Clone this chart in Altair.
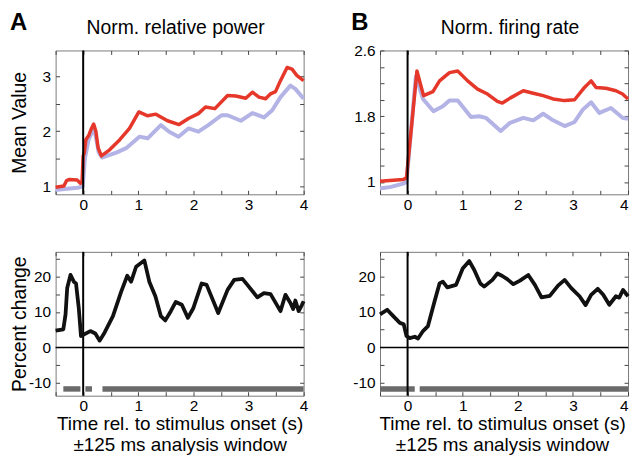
import altair as alt
import pandas as pd

FONT = "Liberation Sans"

# ---------------- data ----------------
# Panel A (top): Norm. relative power
tA_red = [-0.5, -0.35, -0.3, -0.25, -0.11, -0.05, -0.02, 0.0, 0.02, 0.05, 0.1, 0.15, 0.19, 0.23, 0.27, 0.33,
          0.48, 0.66, 0.84, 1.01, 1.1, 1.17, 1.32, 1.53, 1.74, 1.91, 2.09, 2.22, 2.39, 2.62, 2.77, 2.95,
          3.07, 3.19, 3.31, 3.40, 3.49, 3.58, 3.70, 3.79, 3.88, 4.0]
vA_red = [0.98, 1.0, 1.1, 1.12, 1.11, 1.05, 1.08, 1.55, 1.6, 1.85, 1.92, 2.05, 2.13, 2.0, 1.7, 1.55,
          1.66, 1.84, 2.05, 2.35, 2.31, 2.28, 2.31, 2.19, 2.12, 2.23, 2.32, 2.44, 2.41, 2.65, 2.64, 2.60,
          2.71, 2.62, 2.59, 2.68, 2.72, 2.92, 3.16, 3.13, 3.01, 2.92]
tA_blue = [-0.5, -0.3, -0.1, -0.01, 0.03, 0.1, 0.19, 0.23, 0.28, 0.34, 0.6, 0.78, 1.02, 1.17, 1.41, 1.56,
           1.73, 1.91, 2.09, 2.27, 2.51, 2.62, 2.86, 3.07, 3.28, 3.43, 3.58, 3.76, 3.85, 4.0]
vA_blue = [0.93, 0.95, 0.97, 0.99, 1.5, 1.85, 2.05, 1.9, 1.62, 1.52, 1.61, 1.69, 1.90, 1.87, 2.11, 1.99,
           1.90, 2.05, 1.99, 2.11, 2.29, 2.29, 2.19, 2.33, 2.25, 2.38, 2.62, 2.83, 2.77, 2.59]

# Panel B (top): Norm. firing rate
tB_red = [-0.5, -0.08, -0.02, 0.17, 0.29, 0.46, 0.58, 0.76, 0.91, 1.09, 1.27, 1.45, 1.63, 1.72, 1.86,
          2.10, 2.28, 2.46, 2.64, 2.85, 3.03, 3.21, 3.33, 3.42, 3.60, 3.78, 3.90, 4.0]
vB_red = [1.01, 1.03, 1.05, 2.35, 2.05, 2.10, 2.23, 2.33, 2.35, 2.23, 2.13, 2.07, 1.98, 1.96, 2.02,
          2.11, 2.08, 2.05, 2.01, 1.99, 2.00, 2.15, 2.23, 2.15, 2.14, 2.11, 2.07, 2.01]
tB_blue = [-0.5, -0.3, -0.08, -0.02, 0.15, 0.28, 0.47, 0.64, 0.76, 0.91, 1.15, 1.30, 1.42, 1.69, 1.86,
           2.10, 2.28, 2.46, 2.64, 2.85, 3.03, 3.18, 3.33, 3.48, 3.69, 3.90, 4.0]
vB_blue = [0.92, 0.94, 0.98, 1.0, 2.28, 2.01, 1.86, 1.92, 1.99, 1.99, 1.79, 1.80, 1.78, 1.62, 1.72,
           1.78, 1.75, 1.83, 1.75, 1.68, 1.73, 1.88, 1.97, 1.84, 1.90, 1.78, 1.77]

# Percent change (bottom)
tA_pct = [-0.5, -0.36, -0.32, -0.29, -0.23, -0.17, -0.13, -0.08, -0.04, 0.0, 0.13, 0.22, 0.30, 0.39,
          0.54, 0.69, 0.80, 0.87, 0.96, 1.11, 1.20, 1.31, 1.41, 1.49, 1.59, 1.68, 1.79, 1.90, 2.0, 2.15,
          2.24, 2.45, 2.62, 2.74, 2.89, 2.98, 3.16, 3.28, 3.40, 3.58, 3.67, 3.76, 3.81, 3.85, 3.91, 3.97, 4.0]
vA_pct = [4.7, 5.1, 9.3, 16.7, 20.4, 18.5, 18.0, 11.1, 3.2, 3.5, 4.6, 3.9, 1.9, 4.2,
          8.8, 15.7, 20.2, 18.5, 22.7, 24.5, 18.5, 14.4, 8.8, 7.6, 10.2, 12.8, 12.0, 8.3, 11.1, 18.0,
          17.6, 9.7, 16.2, 19.0, 19.3, 17.6, 14.1, 15.3, 15.0, 10.2, 14.8, 12.5, 10.8, 13.2, 10.2, 12.0, 13.0]
tB_pct = [-0.5, -0.37, -0.26, -0.14, -0.07, -0.02, 0.04, 0.13, 0.19, 0.28, 0.37, 0.49, 0.58, 0.64, 0.72,
          0.88, 1.0, 1.12, 1.21, 1.32, 1.39, 1.54, 1.63, 1.72, 1.80, 1.92, 2.04, 2.19, 2.31, 2.43, 2.58,
          2.73, 2.85, 2.97, 3.12, 3.23, 3.33, 3.45, 3.55, 3.66, 3.78, 3.84, 3.91, 4.0]
vB_pct = [9.3, 10.6, 8.8, 6.9, 6.5, 3.2, 2.6, 3.0, 2.5, 4.6, 6.0, 13.0, 18.0, 18.5, 16.9,
          17.6, 22.2, 24.3, 21.8, 18.0, 17.1, 19.0, 20.8, 20.1, 19.3, 17.8, 18.8, 20.4, 17.6, 14.1, 14.5,
          17.4, 19.0, 16.7, 14.4, 11.9, 14.8, 16.5, 14.8, 12.0, 14.4, 14.0, 16.2, 14.4]

# significance bars
sigA_start = [-0.36, 0.04, 0.35]
sigA_end = [-0.05, 0.16, 4.0]
sigB_start = [-0.5, 0.22]
sigB_end = [0.13, 4.0]
sig_level = -11.7

# ticks / labels
x_ticks = [-0.5, 0.0, 0.5, 1.0, 1.5, 2.0, 2.5, 3.0, 3.5, 4.0]
yA_ticks = [1.0, 1.5, 2.0, 2.5, 3.0]
yB_ticks = [1.0, 1.2, 1.4, 1.6, 1.8, 2.0, 2.2, 2.4, 2.6]
yB_labels = [1.0, 1.8, 2.6]
pct_ticks = [-10, -5, 0, 5, 10, 15, 20, 25]

panel_titles = ["Norm. relative power", "Norm. firing rate"]
panel_letters = ["A", "B"]
x_title = ["Time rel. to stimulus onset (s)", "\u00b1125 ms analysis window"]

RED = "#e5372a"
BLUE = "#b3b3e6"
GRAY = "#6a6a6a"
W = 250
H_TOP = 145
H_BOT = 145

xs = alt.Scale(domain=[-0.5, 4], nice=False, zero=False)
ysA = alt.Scale(domain=[0.85, 3.47], nice=False, zero=False)
ysB = alt.Scale(domain=[0.85, 2.6], nice=False, zero=False)
ysP = alt.Scale(domain=[-13.6, 26.9], nice=False, zero=False)

INT_EXPR = "datum.value % 1 === 0 ? '' + datum.value : ''"
B_EXPR = "indexof(" + str(yB_labels) + ", datum.value) >= 0 ? '' + datum.value : ''"
P_EXPR = "datum.value % 10 === 0 ? '' + datum.value : ''"

common = dict(tickSize=4, offset=-4, domain=False, grid=False, tickColor="#444", tickWidth=1,
              labelFont=FONT, labelFontSize=15.5, labelColor="black", labelOverlap=False)


def ax_bottom(title=False, flush=False, title_x=W / 2):
    kw = dict(common, orient="bottom", values=x_ticks, labelExpr=INT_EXPR, labelPadding=3,
              labelFlush=flush)
    if title:
        kw.update(title=x_title, titleFont=FONT, titleFontSize=19, titleFontWeight="normal",
                  titleColor="black", titleX=title_x, titleY=38.5, titleBaseline="alphabetic",
                  titleAlign="center", titleLineHeight=20.5)
    else:
        kw.update(title=None)
    return alt.Axis(**kw)


def ax_left(values, expr, title, h):
    kw = dict(common, orient="left", values=values, labelExpr=expr, labelPadding=5, labelFlush=False)
    if title:
        kw.update(title=title, titleFont=FONT, titleFontSize=19.5, titleFontWeight="normal",
                  titleColor="black", titleX=-34.5, titleY=h / 2, titleBaseline="alphabetic",
                  titleAlign="center", titleAngle=270)
    else:
        kw.update(title=None)
    return alt.Axis(**kw)


def ax_mirror(orient, values):
    return alt.Axis(orient=orient, values=values, labels=False, tickSize=4, offset=-4, domain=False,
                    grid=False, tickColor="#444", tickWidth=1, title=None)


def line(t, v, color, width, ys, xaxis, yaxis):
    df = pd.DataFrame({"t": t, "v": v})
    return alt.Chart(df).mark_line(color=color, strokeWidth=width, strokeJoin="round").encode(
        x=alt.X("t:Q", scale=xs, axis=xaxis),
        y=alt.Y("v:Q", scale=ys, axis=yaxis),
    )


def vrule(axis):
    return alt.Chart(pd.DataFrame({"t": [0.0]})).mark_rule(color="black", strokeWidth=2).encode(
        x=alt.X("t:Q", scale=xs, axis=axis))


def hrule(ys, axis):
    return alt.Chart(pd.DataFrame({"v": [0.0]})).mark_rule(color="black", strokeWidth=1.5).encode(
        y=alt.Y("v:Q", scale=ys, axis=axis))


def text(s, x, y, size, weight="normal", align="left"):
    return alt.Chart(pd.DataFrame({"s": [s]})).mark_text(
        font=FONT, fontSize=size, fontWeight=weight, align=align, baseline="alphabetic", color="black"
    ).encode(x=alt.value(x), y=alt.value(y), text="s:N")


def sig(starts, ends, ys):
    df = pd.DataFrame({"a": starts, "b": ends, "lvl": [sig_level] * len(starts)})
    return alt.Chart(df).mark_rule(color=GRAY, strokeWidth=5.5, strokeCap="butt").encode(
        x=alt.X("a:Q", scale=xs, axis=None), x2="b:Q", y=alt.Y("lvl:Q", scale=ys, axis=None))


top_a = alt.layer(
    line(tA_blue, vA_blue, BLUE, 4, ysA, ax_mirror("top", x_ticks), ax_mirror("right", yA_ticks)),
    line(tA_red, vA_red, RED, 3.5, ysA, ax_bottom(), ax_left(yA_ticks, INT_EXPR, "Mean Value", H_TOP)),
    vrule(None),
    text(panel_letters[0], -46, -21, 24, "bold"),
    text(panel_titles[0], 121, -17, 19.5, align="center"),
).resolve_axis(x="independent", y="independent").properties(width=W, height=H_TOP)

top_b = alt.layer(
    line(tB_blue, vB_blue, BLUE, 4, ysB, ax_mirror("top", x_ticks), ax_mirror("right", yB_ticks)),
    line(tB_red, vB_red, RED, 3.5, ysB, ax_bottom(flush=True), ax_left(yB_ticks, B_EXPR, None, H_TOP)),
    vrule(None),
    text(panel_letters[1], -29, -21, 24, "bold"),
    text(panel_titles[1], 131, -17, 19.5, align="center"),
).resolve_axis(x="independent", y="independent").properties(width=W, height=H_TOP)

bot_a = alt.layer(
    sig(sigA_start, sigA_end, ysP),
    vrule(ax_mirror("top", x_ticks)),
    hrule(ysP, ax_mirror("right", pct_ticks)),
    line(tA_pct, vA_pct, "#111111", 3.8, ysP, ax_bottom(True),
         ax_left(pct_ticks, P_EXPR, "Percent change", H_BOT)),
).resolve_axis(x="independent", y="independent").properties(width=W, height=H_BOT)

bot_b = alt.layer(
    sig(sigB_start, sigB_end, ysP),
    vrule(ax_mirror("top", x_ticks)),
    hrule(ysP, ax_mirror("right", pct_ticks)),
    line(tB_pct, vB_pct, "#111111", 3.8, ysP, ax_bottom(True, flush=True, title_x=W / 2 - 2),
         ax_left(pct_ticks, P_EXPR, None, H_BOT)),
).resolve_axis(x="independent", y="independent").properties(width=W, height=H_BOT)

chart = alt.concat(
    top_a, top_b, bot_a, bot_b, columns=2, spacing={"row": 58, "column": 77}, bounds="flush"
).properties(padding=0).configure_view(stroke="#7a7a7a", strokeWidth=1)

chart.save("out.html", embed_options={"renderer": "svg", "actions": False})
